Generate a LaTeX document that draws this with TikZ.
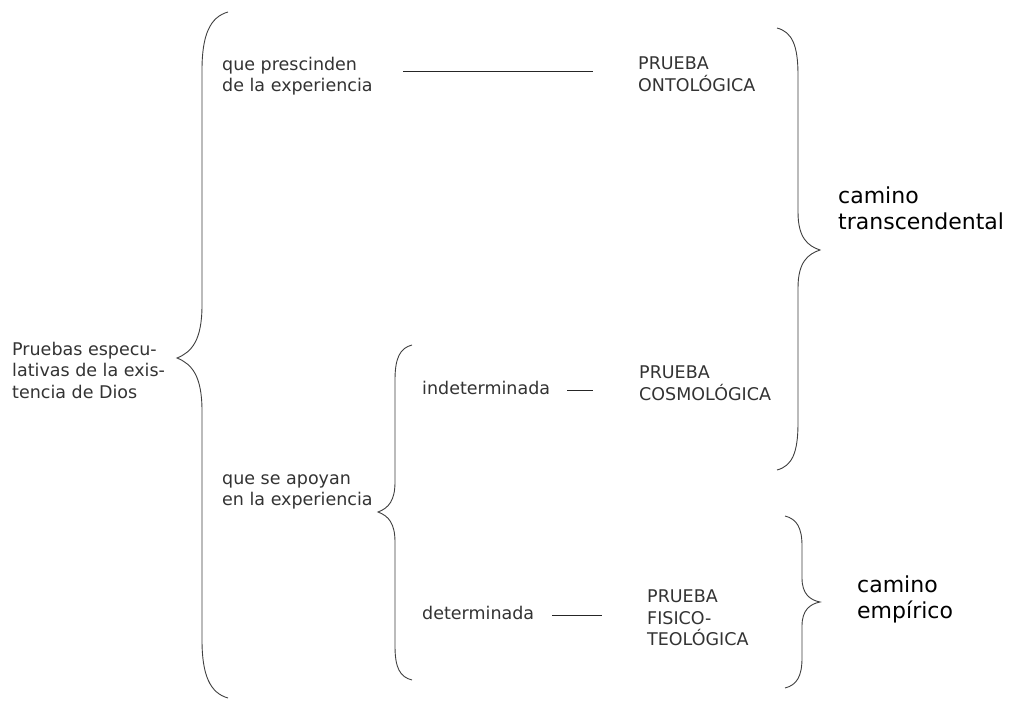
\documentclass[tikz,border=0pt]{standalone}
\usepackage{fontspec}
\setmainfont{DejaVu Sans}
\begin{document}
\begin{tikzpicture}[x=1pt,y=-1pt,
  lbl/.style={anchor=west,inner sep=0pt,align=left,text=black!80,font=\fontsize{17.5}{21.5}\selectfont},
  big/.style={anchor=west,inner sep=0pt,align=left,text=black,font=\fontsize{22}{26}\selectfont},
  brace/.style={draw=black!75,line width=0.9pt},
  conn/.style={draw=black!85,line width=0.9pt}]
\useasboundingbox[fill=white] (0,0) rectangle (1018,702);
% texts
\node[lbl] (root) at (12,370) {Pruebas especu-\\lativas de la exis-\\tencia de Dios};
\node[lbl] (presc) at (222,76) {que prescinden\\de la experiencia};
\node[lbl] (apoy) at (222,492) {que se apoyan\\en la experiencia};
\node[lbl] (indet) at (422,388) {indeterminada};
\node[lbl] (det) at (422,613) {determinada};
\node[lbl] (onto) at (638,74) {PRUEBA\\ONTOLÓGICA};
\node[lbl] (cosmo) at (639,383) {PRUEBA\\COSMOLÓGICA};
\node[lbl] (fisico) at (647,618) {PRUEBA\\FISICO-\\TEOLÓGICA};
\node[big] (trans) at (838,208) {camino\\transcendental};
\node[big] (emp) at (857,599) {camino\\empírico};
% connector end points
\coordinate (c1a) at (403,71); \coordinate (c1b) at (593,71);
\coordinate (c2a) at (567,390); \coordinate (c2b) at (593,390);
\coordinate (c3a) at (552,615); \coordinate (c3b) at (602,615);
\draw[conn] (c1a) -- (c1b);
\draw[conn] (c2a) -- (c2b);
\draw[conn] (c3a) -- (c3b);
% big left brace
\draw[brace] (228,12) .. controls (210,17) and (202,35) .. (202,70) -- (202,305)
  .. controls (202,340) and (192,352) .. (177,358)
  .. controls (192,364) and (202,376) .. (202,411) -- (202,640)
  .. controls (202,675) and (210,693) .. (228,698);
% second left brace
\draw[brace] (412,345) .. controls (400,348) and (395,358) .. (395,380) -- (395,482)
  .. controls (395,500) and (389,508) .. (378,512)
  .. controls (389,516) and (395,524) .. (395,542) -- (395,646)
  .. controls (395,668) and (400,677) .. (412,680);
% transcendental brace
\draw[brace] (777,28) .. controls (792,32) and (798,45) .. (798,75) -- (798,212)
  .. controls (798,238) and (808,246) .. (820,250)
  .. controls (808,254) and (798,262) .. (798,288) -- (798,423)
  .. controls (798,453) and (792,466) .. (777,470);
% empirical brace
\draw[brace] (785,516) .. controls (797,519) and (802,528) .. (802,546) -- (802,578)
  .. controls (802,594) and (810,600) .. (820,602)
  .. controls (810,604) and (802,610) .. (802,626) -- (802,658)
  .. controls (802,676) and (797,685) .. (785,688);
\end{tikzpicture}
\end{document}
